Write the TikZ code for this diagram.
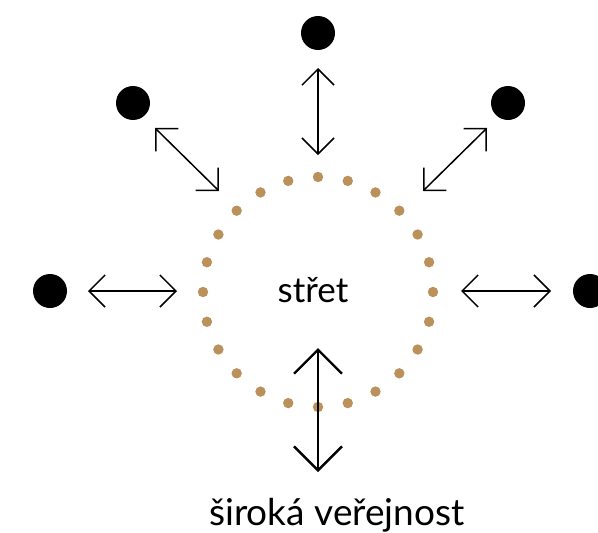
\documentclass[tikz,border=0pt]{standalone}
\usepackage{fontspec}
\setmainfont{Lato}
\usetikzlibrary{arrows.meta}
\definecolor{dotbrown}{RGB}{186,145,90}
\tikzset{
  actor/.style={circle,fill=black,minimum size=34pt,inner sep=0pt},
  link/.style={{Straight Barb[length=16pt,width=32pt]}-{Straight Barb[length=16pt,width=32pt]},line width=1.5pt},
  biglink/.style={{Straight Barb[length=24pt,width=48pt]}-{Straight Barb[length=24pt,width=48pt]},line width=2.4pt}
}
\begin{document}
\begin{tikzpicture}[x=1pt,y=-1pt]
  \useasboundingbox (0,0) rectangle (598,533);
  % dotted circle
  \foreach \a in {0,15,...,345}
    \fill[dotbrown] (318,292) ++(\a:115) circle (5.2);
  \node (stret) at (313,290) {\fontsize{35}{40}\selectfont střet};
  \node (verejnost) at (337,515) {\fontsize{37}{42}\selectfont široká veřejnost};
  % actors
  \node[actor] (top) at (318,33) {};
  \node[actor] (lefttop) at (133,103) {};
  \node[actor] (righttop) at (508,103) {};
  \node[actor] (left) at (50,291) {};
  \node[actor] (right) at (590,291) {};
  % arrow ends
  \coordinate (t1) at (318,68);   \coordinate (t2) at (318,155);
  \coordinate (lt1) at (155,128); \coordinate (lt2) at (219,191);
  \coordinate (rt1) at (487,128); \coordinate (rt2) at (423,191);
  \coordinate (l1) at (88,291);   \coordinate (l2) at (177,291);
  \coordinate (r1) at (461,291);  \coordinate (r2) at (551,291);
  \coordinate (b1) at (318,348);  \coordinate (b2) at (318,472);
  \draw[link] (t1) -- (t2);
  \draw[link] (lt1) -- (lt2);
  \draw[link] (rt1) -- (rt2);
  \draw[link] (l1) -- (l2);
  \draw[link] (r1) -- (r2);
  \draw[biglink] (b1) -- (b2);
\end{tikzpicture}
\end{document}
